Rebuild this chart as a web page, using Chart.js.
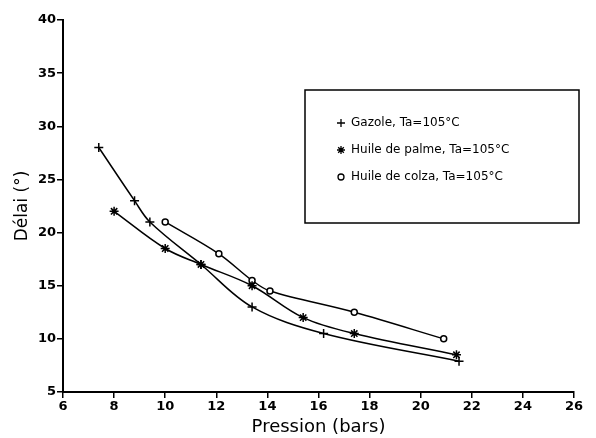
<!DOCTYPE html>
<html>
<head>
<meta charset="utf-8">
<script src="https://cdn.jsdelivr.net/npm/chart.js@4.4.1/dist/chart.umd.min.js"></script>
<style>
  html, body { margin: 0; padding: 0; background: #fff; }
  #wrap { width: 596px; height: 438px; position: relative; }
</style>
</head>
<body>
<div id="wrap"><canvas id="chartDelai"></canvas></div>
<script>
// --- données ---
const pressionGazole = [7.4, 8.8, 9.4, 11.4, 13.4, 16.2, 21.5];
const delaiGazole    = [28, 23, 21, 17, 13, 10.5, 7.9];

const pressionPalme = [8, 10, 11.4, 13.4, 15.4, 17.4, 21.4];
const delaiPalme    = [22, 18.5, 17, 15, 12, 10.5, 8.5];

const pressionColza = [10, 12.1, 13.4, 14.1, 17.4, 20.9];
const delaiColza    = [21, 18, 15.5, 14.5, 12.5, 10];

const labelsSeries = ['Gazole, Ta=105°C', 'Huile de palme, Ta=105°C', 'Huile de colza, Ta=105°C'];
const marqueurs = ['cross', 'star', 'circle'];

const xTicks = [6, 8, 10, 12, 14, 16, 18, 20, 22, 24, 26];
const yTicks = [5, 10, 15, 20, 25, 30, 35, 40];

function points(xs, ys) {
  return xs.map((x, i) => ({ x: x, y: ys[i] }));
}

function serie(label, data, style) {
  return {
    label: label,
    data: data,
    showLine: true,
    borderColor: '#000',
    backgroundColor: '#fff',
    borderWidth: 1.5,
    tension: 0.35,
    pointStyle: style,
    pointRadius: style === 'circle' ? 3 : 4.5,
    pointBorderColor: '#000',
    pointBackgroundColor: '#fff',
    pointBorderWidth: 1.5
  };
}

// légende encadrée dans la zone du graphique
const legendeBoite = {
  id: 'legendeBoite',
  afterDraw(chart) {
    const ctx = chart.ctx;
    ctx.save();
    ctx.strokeStyle = '#000';
    ctx.lineWidth = 1.5;
    ctx.strokeRect(305, 90, 274, 133);
    ctx.font = '12px "DejaVu Sans"';
    ctx.textBaseline = 'middle';
    chart.data.datasets.forEach((ds, i) => {
      const y = 123 + i * 27;
      ctx.lineWidth = 1.3;
      ctx.fillStyle = '#fff';
      Chart.helpers.drawPoint(ctx, { pointStyle: ds.pointStyle, radius: ds.pointStyle === 'circle' ? 3 : 4, borderWidth: 1.3 }, 341, y);
      ctx.fillStyle = '#000';
      ctx.fillText(ds.label, 351, y);
    });
    ctx.restore();
  }
};

new Chart(document.getElementById('chartDelai'), {
  type: 'scatter',
  data: {
    datasets: [
      serie(labelsSeries[0], points(pressionGazole, delaiGazole), marqueurs[0]),
      serie(labelsSeries[1], points(pressionPalme, delaiPalme), marqueurs[1]),
      serie(labelsSeries[2], points(pressionColza, delaiColza), marqueurs[2])
    ]
  },
  options: {
    responsive: true,
    maintainAspectRatio: false,
    animation: false,
    layout: { padding: { top: 20, right: 22, left: 0, bottom: 0 } },
    plugins: {
      legend: { display: false },
      tooltip: { enabled: false }
    },
    scales: {
      x: {
        type: 'linear',
        min: 6, max: 26,
        afterBuildTicks: s => { s.ticks = xTicks.map(v => ({ value: v })); },
        afterFit: s => { s.height = 46; },
        border: { display: true, color: '#000', width: 2 },
        grid: { display: true, drawOnChartArea: false, color: '#000', lineWidth: 1.5, tickLength: 6 },
        ticks: { color: '#000', font: { family: 'DejaVu Sans', size: 13, weight: 'bold' }, padding: 1, maxRotation: 0 },
        title: { display: true, text: 'Pression (bars)', color: '#000', font: { family: 'DejaVu Sans', size: 18 }, padding: { top: 0, bottom: 0 } }
      },
      y: {
        type: 'linear',
        min: 5, max: 40,
        afterBuildTicks: s => { s.ticks = yTicks.map(v => ({ value: v })); },
        afterFit: s => { s.width = 63; },
        border: { display: true, color: '#000', width: 2 },
        grid: { display: true, drawOnChartArea: false, color: '#000', lineWidth: 1.5, tickLength: 6 },
        ticks: { color: '#000', font: { family: 'DejaVu Sans', size: 13, weight: 'bold' }, padding: 1 },
        title: { display: true, text: 'Délai (°)', color: '#000', font: { family: 'DejaVu Sans', size: 17 }, padding: { top: 12, bottom: 4 } }
      }
    }
  },
  plugins: [legendeBoite]
});
</script>
</body>
</html>
